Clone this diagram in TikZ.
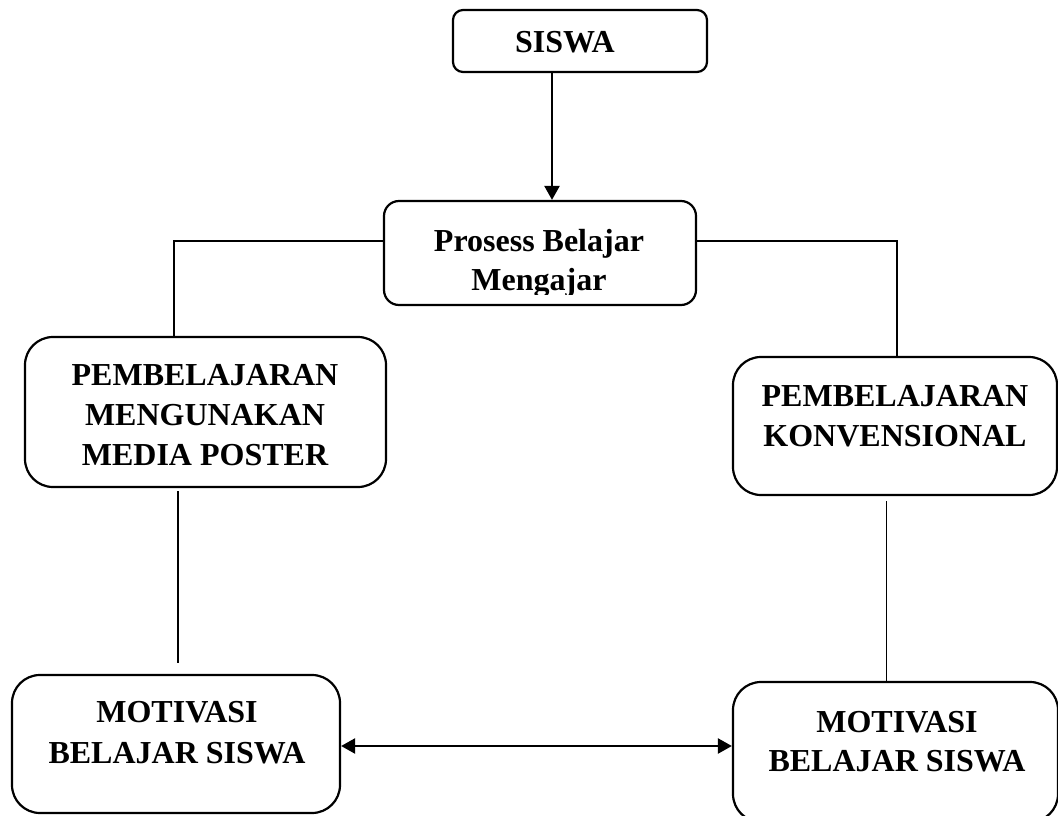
\documentclass[tikz,border=0pt]{standalone}
\usepackage{fontspec}
\setmainfont{Liberation Serif}
\usetikzlibrary{arrows.meta}
\begin{document}
\begin{tikzpicture}[x=1pt,y=-1pt,
  box/.style={draw, line width=2.2pt, rounded corners=#1, inner sep=0pt},
  txt/.style={font=\bfseries\fontsize{32}{40}\selectfont, align=center, anchor=base, inner sep=0pt},
  conn/.style={line width=1.2pt},
  arr/.style={line width=2.3pt, -{Triangle[length=14pt,width=15pt]}},
  darr/.style={line width=2.3pt, {Triangle[length=14pt,width=15pt]}-{Triangle[length=14pt,width=15pt]}}]
\useasboundingbox (0,0) rectangle (1058,816);
% boxes
\node[box=10pt, minimum width=254pt, minimum height=62pt] (siswa) at (580,41) {};
\node[box=15pt, minimum width=312pt, minimum height=104pt] (pbm) at (540,253) {};
\node[box=28pt, minimum width=361pt, minimum height=150pt] (pmed) at (205.5,412) {};
\node[box=28pt, minimum width=324pt, minimum height=138pt] (pkon) at (895,426) {};
\node[box=28pt, minimum width=328pt, minimum height=138pt] (mot1) at (176,744) {};
\node[box=28pt, minimum width=325pt, minimum height=140pt] (mot2) at (895.5,752) {};
% texts
\node[txt] (tsiswa) at (565,53) {SISWA};
\begin{scope}
\clip (384,190) rectangle (696,294);
\node[txt] (tpbm1) at (539,251) {Prosess Belajar};
\node[txt] (tpbm2) at (539,290) {Mengajar};
\end{scope}
\node[txt] (tpmed1) at (205,385) {PEMBELAJARAN};
\node[txt] (tpmed2) at (205,425) {MENGUNAKAN};
\node[txt] (tpmed3) at (205,465) {MEDIA POSTER};
\node[txt] (tpkon1) at (895,406) {PEMBELAJARAN};
\node[txt] (tpkon2) at (895,446) {KONVENSIONAL};
\node[txt] (tmot11) at (177,722) {MOTIVASI};
\node[txt] (tmot12) at (177,763) {BELAJAR SISWA};
\node[txt] (tmot21) at (897,732) {MOTIVASI};
\node[txt] (tmot22) at (897,771) {BELAJAR SISWA};
% connectors
\coordinate (ax) at (552,0);
\draw[arr] (siswa.south -| ax) -- (pbm.north -| ax);
\draw[conn] ([yshift=12pt]pbm.west) -| ([xshift=-31.5pt]pmed.north);
\draw[conn] ([yshift=12pt]pbm.east) -| ([xshift=2pt]pkon.north);
\draw[conn] ([xshift=-27.5pt,yshift=-3pt]pmed.south) -- ([xshift=2pt,yshift=11pt]mot1.north);
\draw[conn] ([xshift=-8.5pt,yshift=-5pt]pkon.south) -- ([xshift=-9pt]mot2.north);
\draw[darr] ([yshift=-2pt]mot1.east) -- ([yshift=-2pt]mot1.east -| mot2.west);
\end{tikzpicture}
\end{document}
